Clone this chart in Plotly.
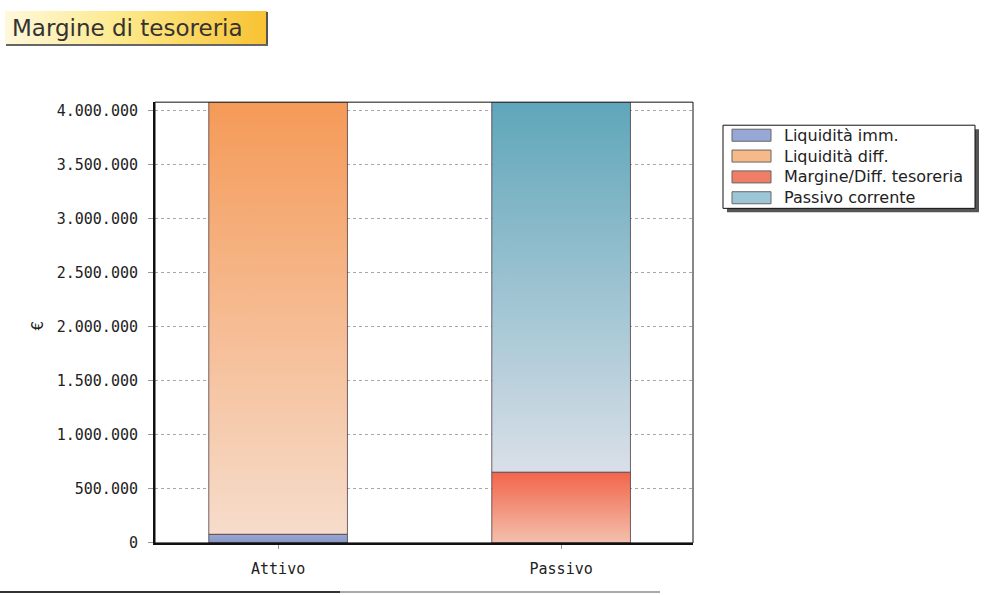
import plotly.graph_objects as go

# ---- data -------------------------------------------------------------
categories = ["Attivo", "Passivo"]
series_names = [
    "Liquidità imm.",
    "Liquidità diff.",
    "Margine/Diff. tesoreria",
    "Passivo corrente",
]
liquidita_imm = [80000, 0]
liquidita_diff = [4000000, 0]
margine_tesoreria = [0, 655000]
passivo_corrente = [0, 3425000]
y_tick_values = [0, 500000, 1000000, 1500000, 2000000, 2500000, 3000000, 3500000, 4000000]
title_text = "Margine di tesoreria"
y_axis_label = "€"

series_values = [liquidita_imm, liquidita_diff, margine_tesoreria, passivo_corrente]

# vertical gradient per series: (bottom colour, top colour)
series_gradients = [
    ("#8797c4", "#9aa9d2"),
    ("#f6dccb", "#f59a58"),
    ("#f3c0ad", "#f2654a"),
    ("#d9dfe8", "#5fa6ba"),
]
# flat colours used for the legend swatches
legend_colors = ["#98a8d6", "#f6b98a", "#f07d66", "#9cc6d6"]

W, H = 995, 605
Y_SCALE = 595  # vertical pixel scale used for placing elements


def px(x):
    return x / W


def py(y):
    return 1 - y / Y_SCALE


# plot area in pixels
PX0, PX1, PY0, PY1 = 155, 693, 102, 542

BAR_WIDTH = 0.49
TEXT_FONT = "DejaVu Sans"
TICK_FONT = "DejaVu Sans Mono"

fig = go.Figure()

bases = [0.0] * len(categories)
for name, values, (c_bot, c_top) in zip(series_names, series_values, series_gradients):
    for i, v in enumerate(values):
        if v <= 0:
            continue
        b0, b1 = bases[i], bases[i] + v
        x0, x1 = i - BAR_WIDTH / 2, i + BAR_WIDTH / 2
        fig.add_trace(
            go.Scatter(
                x=[x0, x1, x1, x0, x0],
                y=[b0, b0, b1, b1, b0],
                mode="lines",
                fill="toself",
                fillgradient=dict(
                    type="vertical",
                    colorscale=[[0, c_bot], [1, c_top]],
                ),
                line=dict(color="rgba(70,50,60,0.75)", width=1),
                name=name,
                showlegend=False,
                hoverinfo="name+y",
            )
        )
        bases[i] = b1

# title banner with horizontal gradient, on its own hidden axes
fig.add_trace(
    go.Scatter(
        x=[0, 1, 1, 0, 0],
        y=[0, 0, 1, 1, 0],
        xaxis="x2",
        yaxis="y2",
        mode="lines",
        fill="toself",
        fillgradient=dict(
            type="horizontal",
            colorscale=[[0, "#fff8dc"], [0.45, "#fde98a"], [1, "#f8c232"]],
        ),
        line=dict(color="rgba(0,0,0,0)", width=0),
        showlegend=False,
        hoverinfo="skip",
    )
)

fig.update_layout(
    width=W,
    height=H,
    autosize=False,
    margin=dict(l=0, r=0, t=0, b=0),
    paper_bgcolor="white",
    plot_bgcolor="white",
    separators=",.",
    font=dict(family=TEXT_FONT, size=15, color="#222"),
    showlegend=False,
    xaxis=dict(
        domain=[px(PX0), px(PX1)],
        range=[-0.435, 1.466],
        tickvals=list(range(len(categories))),
        ticktext=categories,
        showgrid=False,
        zeroline=False,
        showline=True,
        linecolor="#111",
        linewidth=2,
        ticks="outside",
        ticklen=4,
        tickcolor="#999",
        ticklabelstandoff=7,
        tickfont=dict(family=TICK_FONT, size=15, color="#222"),
        fixedrange=True,
    ),
    yaxis=dict(
        domain=[py(PY1), py(PY0)],
        range=[0, sum(liquidita_imm) + sum(liquidita_diff)],
        tickvals=y_tick_values,
        tickformat=",d",
        showgrid=True,
        gridcolor="#a8a8a8",
        griddash="dot",
        gridwidth=1,
        zeroline=False,
        showline=True,
        linecolor="#111",
        linewidth=2,
        ticks="outside",
        ticklen=5,
        tickcolor="#999",
        ticklabelstandoff=7,
        tickfont=dict(family=TICK_FONT, size=15, color="#222"),
        fixedrange=True,
    ),
    xaxis2=dict(domain=[px(5), px(267)], range=[0, 1], visible=False, fixedrange=True),
    yaxis2=dict(domain=[py(44), py(11)], range=[0, 1], visible=False, fixedrange=True),
)

shapes = [
    # thin frame around the plot area
    dict(type="rect", xref="paper", yref="paper",
         x0=px(PX0), x1=px(PX1), y0=py(PY1), y1=py(PY0),
         line=dict(color="#111", width=1), fillcolor="rgba(0,0,0,0)", layer="above"),
    # legend box with drop shadow
    dict(type="rect", xref="paper", yref="paper",
         x0=px(727), x1=px(979), y0=py(212), y1=py(129),
         line=dict(width=0), fillcolor="#555", layer="below"),
    dict(type="rect", xref="paper", yref="paper",
         x0=px(723), x1=px(975), y0=py(208), y1=py(125),
         line=dict(color="#111", width=1), fillcolor="white", layer="below"),
    # title banner shadow
    dict(type="line", xref="paper", yref="paper",
         x0=px(267), x1=px(267), y0=py(46), y1=py(12),
         line=dict(color="#555", width=2)),
    dict(type="line", xref="paper", yref="paper",
         x0=px(6), x1=px(268), y0=py(45), y1=py(45),
         line=dict(color="#666", width=2)),
    # rule at the bottom of the page
    dict(type="line", xref="paper", yref="paper",
         x0=0, x1=px(340), y0=py(591), y1=py(591),
         line=dict(color="#333", width=2)),
    dict(type="line", xref="paper", yref="paper",
         x0=px(340), x1=px(660), y0=py(591), y1=py(591),
         line=dict(color="#aaa", width=2)),
]

# legend entries: swatch + label, one row per series
LEG_ROW0, LEG_STEP = 135, 20.8
for k, (name, col) in enumerate(zip(series_names, legend_colors)):
    yc = LEG_ROW0 + k * LEG_STEP
    shapes.append(
        dict(type="rect", xref="paper", yref="paper",
             x0=px(732), x1=px(771), y0=py(yc + 6), y1=py(yc - 6),
             line=dict(color="#666", width=1), fillcolor=col, layer="above")
    )
    fig.add_annotation(
        text=name, xref="paper", yref="paper",
        x=px(782), y=py(yc), xanchor="left", yanchor="middle",
        showarrow=False, font=dict(family=TEXT_FONT, size=16, color="#222"),
    )

fig.update_layout(shapes=shapes)

fig.add_annotation(
    text=title_text, xref="paper", yref="paper",
    x=px(10), y=py(28), xanchor="left", yanchor="middle",
    showarrow=False, font=dict(family=TEXT_FONT, size=23, color="#333"),
)
fig.add_annotation(
    text=y_axis_label, xref="paper", yref="paper",
    x=px(38), y=py(325), xanchor="center", yanchor="middle",
    textangle=-90, showarrow=False,
    font=dict(family=TEXT_FONT, size=15, color="#222"),
)

fig.write_html("out.html", config={"responsive": False})
